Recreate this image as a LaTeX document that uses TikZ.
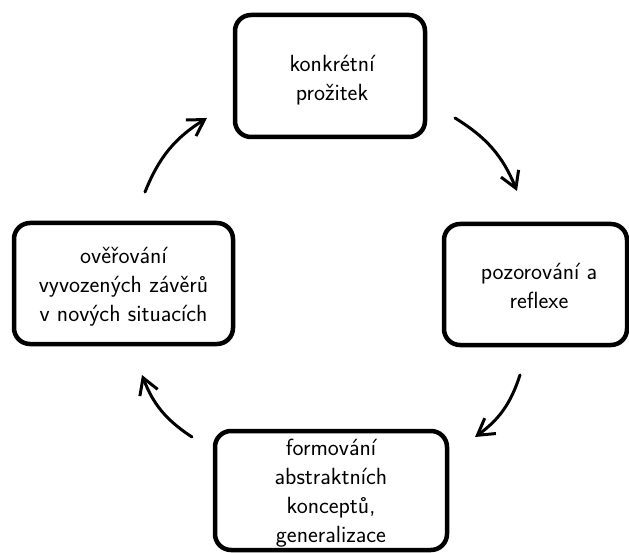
\documentclass[tikz,border=0pt]{standalone}
\usepackage{fontspec}
\usetikzlibrary{arrows.meta}
\begin{document}
\begin{tikzpicture}[x=1pt,y=-1pt,
  box/.style={draw=black, line width=4.5pt, rounded corners=16pt, inner sep=0pt},
  lbl/.style={align=center, font=\sffamily\fontsize{23.4}{29}\selectfont, text=black, inner sep=0pt},
  cyc/.style={line width=3pt, line cap=round, -{Straight Barb[length=16pt,width=19pt]}, bend left=18}]
\useasboundingbox (0,0) rectangle (629,553);
% boxes
\node[box, minimum width=190pt, minimum height=122pt] (top) at (330,76) {};
\node[box, minimum width=183pt, minimum height=121pt] (right) at (535.5,284.5) {};
\node[box, minimum width=232pt, minimum height=119pt] (bottom) at (331,490.5) {};
\node[box, minimum width=219pt, minimum height=121pt] (left) at (123.5,283.5) {};
% texts
\node[lbl] (ttop) at (332,80) {konkrétní\\prožitek};
\node[lbl] (tright) at (539,286) {pozorování a\\reflexe};
\node[lbl] (tbottom) at (331,493.5) {formování\\abstraktních\\konceptů,\\generalizace};
\node[lbl] (tleft) at (123.5,287) {ověřování\\vyvozených závěrů\\v nových situacích};
% arrows
\coordinate (a1s) at (455,118); \coordinate (a1e) at (517,191);
\coordinate (a2s) at (520,375); \coordinate (a2e) at (475,437);
\coordinate (a3s) at (192,437); \coordinate (a3e) at (142,375);
\coordinate (a4s) at (145,192); \coordinate (a4e) at (207,118);
\draw[cyc] (a1s) to (a1e);
\draw[cyc] (a2s) to (a2e);
\draw[cyc] (a3s) to (a3e);
\draw[cyc] (a4s) to (a4e);
\end{tikzpicture}
\end{document}
